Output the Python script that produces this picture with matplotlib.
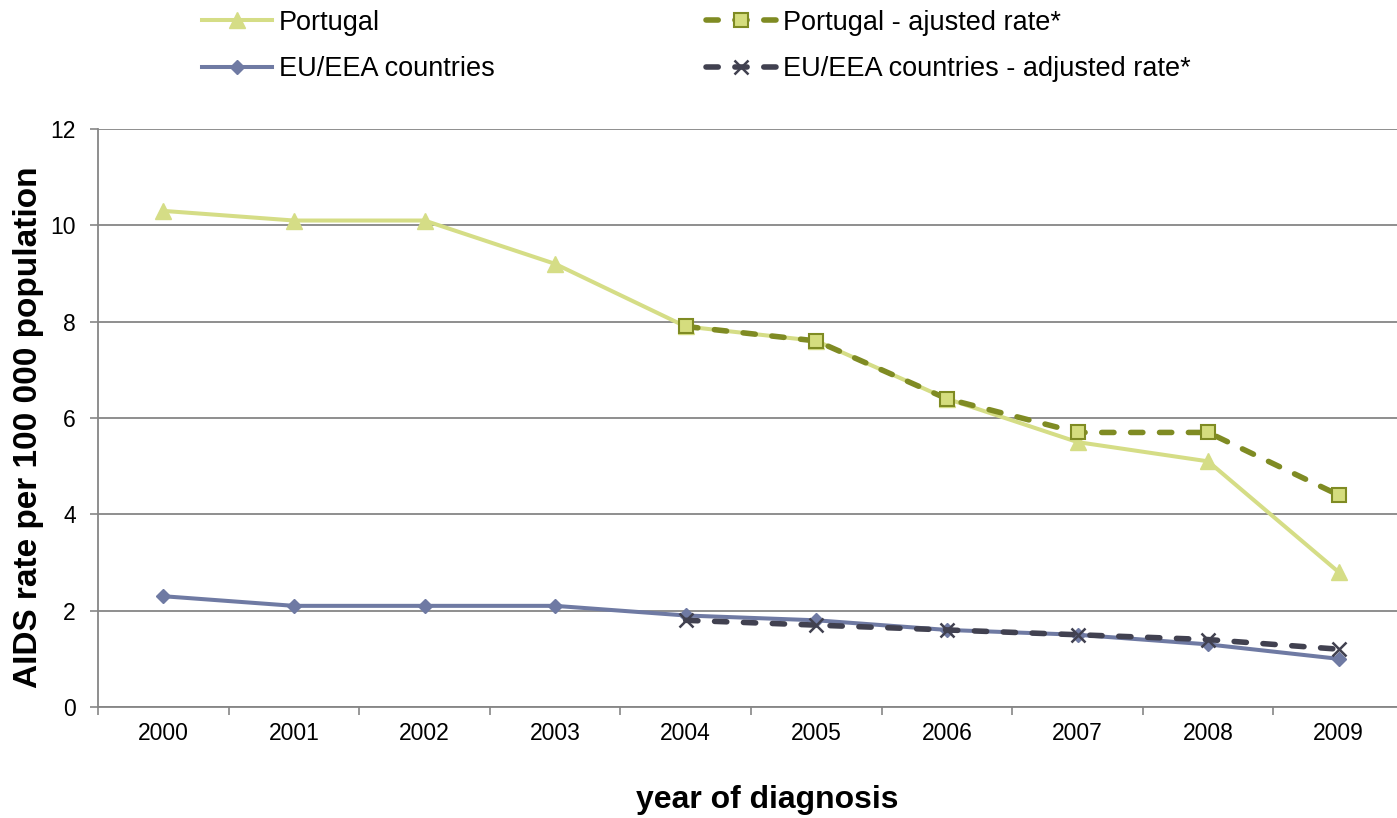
import matplotlib
matplotlib.use("Agg")
import matplotlib.pyplot as plt
import numpy as np

plt.rcParams['font.family'] = ['Liberation Sans', 'DejaVu Sans']

years = ["2000", "2001", "2002", "2003", "2004", "2005", "2006", "2007", "2008", "2009"]
portugal = [10.3, 10.1, 10.1, 9.2, 7.9, 7.6, 6.4, 5.5, 5.1, 2.8]
eu_eea = [2.3, 2.1, 2.1, 2.1, 1.9, 1.8, 1.6, 1.5, 1.3, 1.0]
adj_years = ["2004", "2005", "2006", "2007", "2008", "2009"]
portugal_adj = [7.9, 7.6, 6.4, 5.7, 5.7, 4.4]
eu_eea_adj = [1.8, 1.7, 1.6, 1.5, 1.4, 1.2]
y_ticks = [0, 2, 4, 6, 8, 10, 12]

W, H = 1397, 818
fig = plt.figure(figsize=(W / 100, H / 100), dpi=100)
left, right, top, bottom = 98, 1404, 129, 707
ax = fig.add_axes([left / W, 1 - bottom / H, (right - left) / W, (bottom - top) / H])

x = np.arange(len(years))
xa = np.array([years.index(y) for y in adj_years])

c_pt = "#D5DD86"
c_pt_adj = "#7F8B23"
c_pt_fill = "#D5DD7E"
c_eu = "#6F7AA3"
c_eu_adj = "#414150"
dash = (0, (2.2, 3.0))

l1, = ax.plot(x, portugal, color=c_pt, lw=2.9, marker="^", ms=11, mfc=c_pt, mec=c_pt,
              label="Portugal", zorder=3)
l3, = ax.plot(x, eu_eea, color=c_eu, lw=2.9, marker="D", ms=7.5, mfc=c_eu, mec=c_eu,
              label="EU/EEA countries", zorder=3)
l2, = ax.plot(xa, portugal_adj, color=c_pt_adj, lw=4.0, ls=dash, dash_capstyle="round",
              marker="s", ms=10.5, mfc=c_pt_fill, mec=c_pt_adj, mew=1.5,
              label="Portugal - ajusted rate*", zorder=4)
l4, = ax.plot(xa, eu_eea_adj, color=c_eu_adj, lw=4.0, ls=dash, dash_capstyle="round",
              marker="x", ms=9.5, mec=c_eu_adj, mew=1.8,
              label="EU/EEA countries - adjusted rate*", zorder=4)

ax.set_xlim(-0.5, len(years) - 0.5)
ax.set_ylim(0, 12)
ax.set_yticks(y_ticks)
ax.set_xticks(x)
ax.set_xticklabels(years)
ax.set_xticks(np.arange(-0.5, len(years) + 0.5, 1), minor=True)
ax.tick_params(axis="x", which="major", length=0, pad=11, labelsize=16.5)
ax.tick_params(axis="x", which="minor", length=6, color="#868686", width=1.2)
ax.tick_params(axis="y", length=6, color="#868686", width=1.2, pad=10, labelsize=16.5)

ax.grid(axis="y", color="#868686", lw=1.3)
ax.set_axisbelow(True)
for s in ["top", "right"]:
    ax.spines[s].set_visible(False)
for s in ["left", "bottom"]:
    ax.spines[s].set_color("#868686")
    ax.spines[s].set_linewidth(1.3)

fig.text(29 / W, 1 - 427 / H, "AIDS rate per 100 000 population", rotation=90,
         ha="center", va="center", fontsize=24, fontweight="bold")
fig.text(767 / W, 1 - 800 / H, "year of diagnosis", ha="center", va="center",
         fontsize=23, fontweight="bold")

fig.legend(handles=[l1, l3, l2, l4], ncol=2, loc="upper left",
           bbox_to_anchor=(183 / W, 1 + 9 / H), frameon=False, fontsize=19.5,
           handlelength=2.6, handletextpad=0.25, columnspacing=7.8,
           labelspacing=0.75, borderaxespad=0.3)

fig.savefig("out.png", dpi=100)
